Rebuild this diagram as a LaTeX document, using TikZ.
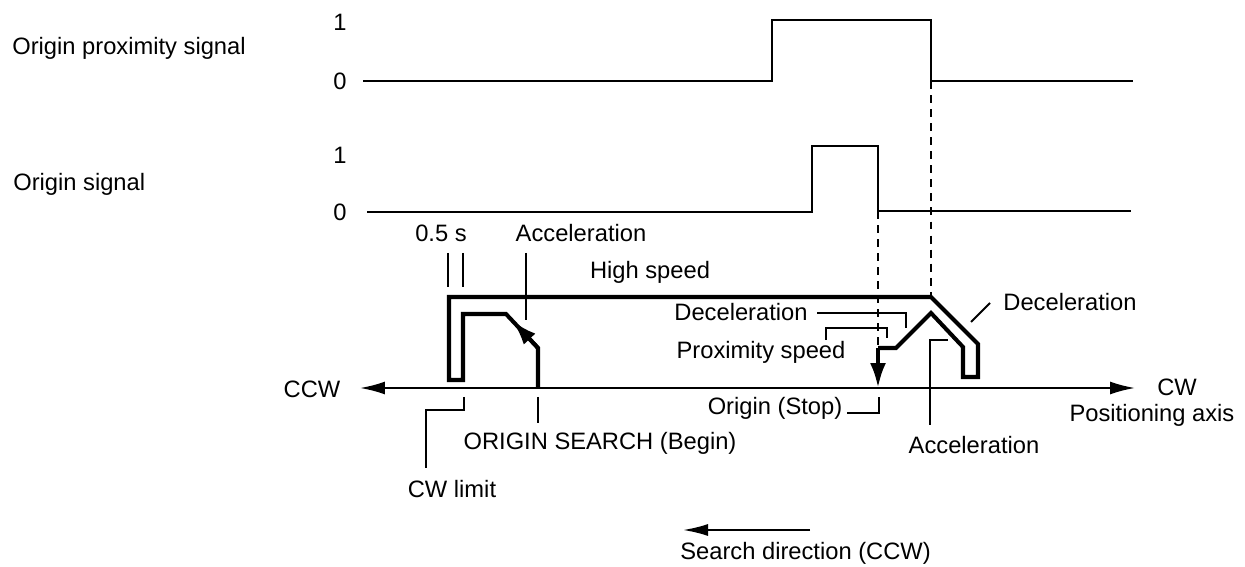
\documentclass[tikz,border=0pt]{standalone}
\usepackage{fontspec}
\setmainfont{Liberation Sans}
\usetikzlibrary{arrows.meta,calc}
\tikzset{
  sig/.style={line width=1.2pt,line join=miter},
  speed/.style={line width=2.3pt,line join=miter},
  lead/.style={line width=1.1pt},
  guide/.style={line width=1.2pt,dash pattern=on 4.5pt off 3.5pt},
  lbl/.style={inner sep=0pt,font=\fontsize{13.5}{16}\selectfont},
  bigtip/.style={-{Latex[length=5mm,width=3.2mm]}},
  axarrow/.style={lead,{Latex[length=5mm,width=2.6mm]}-{Latex[length=5mm,width=2.6mm]}}
}

\begin{document}
\begin{tikzpicture}[x=0.02cm,y=-0.02cm]
\useasboundingbox (0,0) rectangle (1245,567);

% Signal names and levels
\node[lbl,anchor=west] (proxname) at (12,48) {Origin proximity signal};
\node[lbl] (proxhi) at (340,22) {1};
\node[lbl] (proxlo) at (340,81) {0};
\node[lbl,anchor=west] (origname) at (13,184) {Origin signal};
\node[lbl] (orighi) at (340,155) {1};
\node[lbl] (origlo) at (340,212) {0};

% Origin proximity signal
\coordinate (P0) at (363,81);
\coordinate (P1) at (772,81);
\coordinate (P2) at (772,20);
\coordinate (P3) at (931,20);
\coordinate (P4) at (931,81);
\coordinate (P5) at (1133,81);
\draw[sig] (P0) -- (P1) -- (P2) -- (P3) -- (P4) -- (P5);

% Origin signal
\coordinate (O0) at (367,212);
\coordinate (O1) at (812,212);
\coordinate (O2) at (812,146);
\coordinate (O3) at (878,146);
\coordinate (O4) at (878,211);
\coordinate (O5) at (1131,211);
\draw[sig] (O0) -- (O1) -- (O2) -- (O3) -- (O4) -- (O5);

% Positioning axis
\coordinate (axL) at (360,388);
\coordinate (axR) at (1135,388);
\draw[axarrow] (axL) -- (axR);
\node[lbl] (ccw) at (312,389) {CCW};
\node[lbl] (cw) at (1177,387) {CW};
\node[lbl] (posaxis) at (1152,415) {Positioning axis};

% Speed profile
\coordinate (S0) at (538,388);
\coordinate (S1) at (538,348);
\coordinate (S2) at (506,314);
\coordinate (S3) at (463,314);
\coordinate (S4) at (463,380);
\coordinate (S5) at (449,380);
\coordinate (S6) at (449,297);
\coordinate (S7) at (931,297);
\coordinate (S8) at (978,344);
\coordinate (S9) at (978,377);
\coordinate (S10) at (963,377);
\coordinate (S11) at (963,347);
\coordinate (S12) at (931,313);
\coordinate (S13) at (896,348);
\coordinate (S14) at (878,348);
\coordinate (S15) at (878,388);
\draw[speed] (S0) -- (S1) -- (S2) -- (S3) -- (S4) -- (S5) -- (S6) -- (S7)
  -- (S8) -- (S9) -- (S10) -- (S11) -- (S12) -- (S13) -- (S14);
\draw[speed,bigtip] (S1) -- ($(S1)!0.8!(S2)$);
\draw[speed,bigtip] (S14) -- (S15);

% Dashed guides from the signal edges
\draw[guide] (P4) -- (S7);
\draw[guide] (O4) -- (S14);

% Labels above the profile
\node[lbl] (halfs) at (441,233) {0.5 s};
\draw[lead] (448,253) -- (448,287);
\draw[lead] (463,253) -- (463,287);
\node[lbl] (acctop) at (581,233) {Acceleration};
\coordinate (acctopA) at (526,253);
\coordinate (acctopB) at (526,320);
\draw[lead] (acctopA) -- (acctopB);
\node[lbl] (highspd) at (650,272) {High speed};

% Deceleration and proximity speed
\node[lbl] (decmid) at (741,312) {Deceleration};
\coordinate (decA) at (817,313);
\coordinate (decB) at (906,313);
\coordinate (decC) at (906,328);
\draw[lead] (decA) -- (decB) -- (decC);
\node[lbl] (proxspd) at (761,352) {Proximity speed};
\coordinate (pspA) at (826,340);
\coordinate (pspB) at (826,328);
\coordinate (pspC) at (887,328);
\coordinate (pspD) at (887,338);
\draw[lead] (pspA) -- (pspB) -- (pspC) -- (pspD);

% Right side
\node[lbl] (decright) at (1070,302) {Deceleration};
\coordinate (decrA) at (971,322);
\coordinate (decrB) at (990,303);
\draw[lead] (decrA) -- (decrB);
\node[lbl] (accbot) at (974,445) {Acceleration};
\coordinate (accA) at (930,425);
\coordinate (accB) at (930,340);
\coordinate (accC) at (948,340);
\draw[lead] (accA) -- (accB) -- (accC);

% Labels below the axis
\node[lbl] (stop) at (775,408) {Origin (Stop)};
\coordinate (stopA) at (847,413);
\coordinate (stopB) at (879,413);
\coordinate (stopC) at (879,397);
\draw[lead] (stopA) -- (stopB) -- (stopC);
\node[lbl] (begin) at (600,443) {ORIGIN SEARCH (Begin)};
\coordinate (beginA) at (538,397);
\coordinate (beginB) at (538,423);
\draw[lead] (beginA) -- (beginB);
\node[lbl] (cwlimit) at (452,489) {CW limit};
\coordinate (limA) at (464,397);
\coordinate (limB) at (464,410);
\coordinate (limC) at (426,410);
\coordinate (limD) at (426,468);
\draw[lead] (limA) -- (limB) -- (limC) -- (limD);

% Search direction
\coordinate (srchA) at (810,530);
\coordinate (srchB) at (683,530);
\draw[lead,-{Latex[length=5mm,width=2.4mm]}] (srchA) -- (srchB);
\node[lbl,anchor=west] (srch) at (680,553) {Search direction (CCW)};

\end{tikzpicture}
\end{document}
